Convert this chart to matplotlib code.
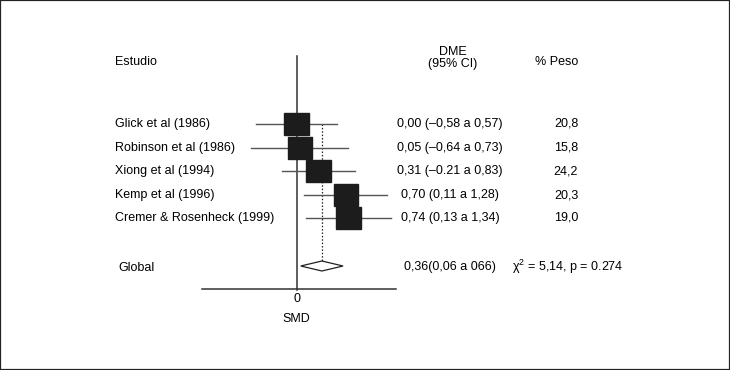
import matplotlib
matplotlib.use("Agg")
import matplotlib.pyplot as plt
from matplotlib.patches import Rectangle, Polygon

plt.rcParams['font.family'] = ['Liberation Sans', 'DejaVu Sans']
plt.rcParams['font.size'] = 9
plt.rcParams['mathtext.default'] = 'regular'

# Datos del metaanalisis
estudios = ["Glick et al (1986)", "Robinson et al (1986)", "Xiong et al (1994)",
            "Kemp et al (1996)", "Cremer & Rosenheck (1999)"]
dme = [0.00, 0.05, 0.31, 0.70, 0.74]
ic_inf = [-0.58, -0.64, -0.21, 0.11, 0.13]
ic_sup = [0.57, 0.73, 0.83, 1.28, 1.34]
dme_txt = ["0,00 (\u20130,58 a 0,57)", "0,05 (\u20130,64 a 0,73)", "0,31 (\u20130.21 a 0,83)",
           "0,70 (0,11 a 1,28)", "0,74 (0,13 a 1,34)"]
peso_txt = ["20,8", "15,8", "24,2", "20,3", "19,0"]

global_dme = 0.36
global_inf = 0.06
global_sup = 0.66
global_txt = "0,36(0,06 a 066)"
het_txt = "\u03c7$^{2}$ = 5,14, p = 0.274"

# filas (en pixeles desde arriba)
filas = [124, 148, 171, 195, 218]
fila_global = 266

W, H = 730, 370
ppu = 70.5   # pixeles por unidad SMD
x0 = 296.5   # pixel del cero

fig = plt.figure(figsize=(W / 100, H / 100), dpi=100)
ax = fig.add_axes([0, 0, 1, 1])
ax.set_xlim(-x0 / ppu, (W - x0) / ppu)
ax.set_ylim(H, 0)
ax.set_xticks([])
ax.set_yticks([])
for s in ax.spines.values():
    s.set_linewidth(1.6)
    s.set_color('#222222')

tr = ax.get_yaxis_transform()  # x en fraccion, y en datos
def fx(px):
    return px / W

# eje y linea del cero
ax.plot([(202 - x0) / ppu, (396 - x0) / ppu], [289, 289], color='#333333', lw=1.1)
ax.plot([0, 0], [56, 290], color='#333333', lw=1.1)
ax.text(0, 299, "0", ha='center', va='center')
ax.text(0, 319, "SMD", ha='center', va='center')

# linea punteada del global
ax.plot([global_dme, global_dme], [filas[0], fila_global - 5], color='#222222',
        lw=0.9, ls=(0, (1.2, 1.5)))

# estudios
for i in range(len(estudios)):
    y = filas[i]
    ax.plot([ic_inf[i], ic_sup[i]], [y, y], color='#555555', lw=1.0, zorder=2)
    ax.add_patch(Rectangle((dme[i] - 0.175, y - 11), 0.35, 22,
                           facecolor='#1c1c1c', edgecolor='#1c1c1c', zorder=3))
    ax.text(fx(115), y, estudios[i], transform=tr, ha='left', va='center')
    ax.text(fx(450), y, dme_txt[i], transform=tr, ha='center', va='center')
    ax.text(fx(566), y, peso_txt[i], transform=tr, ha='center', va='center')

# diamante global
ax.add_patch(Polygon([(global_inf, fila_global), (global_dme, fila_global - 5),
                      (global_sup, fila_global), (global_dme, fila_global + 5)],
                     closed=True, facecolor='white', edgecolor='#222222', lw=0.9, zorder=3))
ax.text(fx(118), fila_global + 2, "Global", transform=tr, ha='left', va='center')
ax.text(fx(450), fila_global + 1, global_txt, transform=tr, ha='center', va='center')
ax.text(fx(512), fila_global + 1, het_txt, transform=tr, ha='left', va='center')

# encabezados
ax.text(fx(115), 62, "Estudio", transform=tr, ha='left', va='center')
ax.text(fx(453), 52, "DME", transform=tr, ha='center', va='center')
ax.text(fx(453), 64, "(95% CI)", transform=tr, ha='center', va='center')
ax.text(fx(557), 62, "% Peso", transform=tr, ha='center', va='center')

fig.savefig("out.png", dpi=100)
